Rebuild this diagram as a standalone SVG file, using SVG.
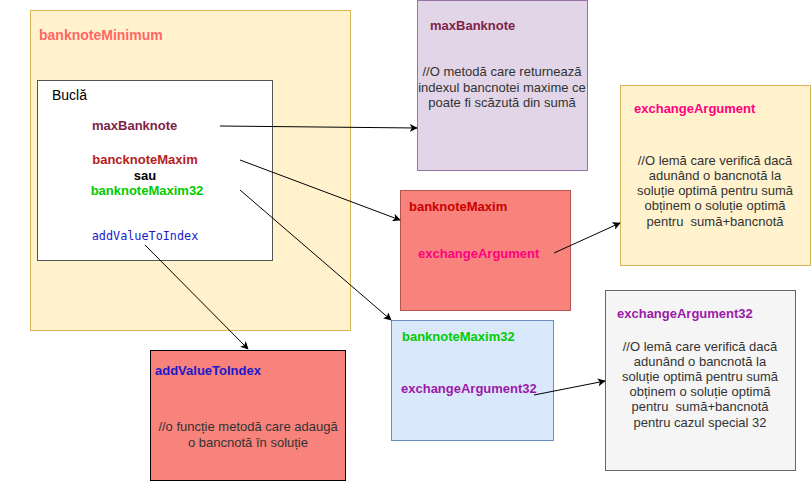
<svg xmlns="http://www.w3.org/2000/svg" width="811" height="481" viewBox="0 0 811 481">
<style>
text{font-family:"Liberation Sans",Arial,sans-serif;font-size:13px}
.b{font-weight:bold}
.c{text-anchor:middle;fill:#333333}
.mono{font-family:"DejaVu Sans Mono","Liberation Mono",monospace;font-size:11.8px}
.con{stroke:#000;stroke-width:1;fill:none;marker-end:url(#arr)}
</style>
<defs>
<marker id="arr" viewBox="0 0 10 10" refX="9" refY="5" markerWidth="8" markerHeight="8" orient="auto" markerUnits="userSpaceOnUse">
<path d="M0,0 L10,5 L0,10 L2.5,5 Z" fill="#000"/>
</marker>
</defs>
<rect width="811" height="481" fill="#fff"/>
<g id="banknoteMinimum">
<rect x="30.5" y="10.5" width="320" height="320" fill="#fff2cc" stroke="#d6b656"/>
<text x="39" y="40" class="b" style="font-size:14px" fill="#ff6666">banknoteMinimum</text>
</g>
<g id="bucla">
<rect x="37.5" y="80.5" width="235" height="180" fill="#ffffff" stroke="#555555"/>
<text x="52" y="100" style="font-size:14px" fill="#000">Buclă</text>
<text x="92" y="130" class="b" fill="#801f48">maxBanknote</text>
<text x="145" y="164" class="b" text-anchor="middle" fill="#b71c1c">bancknoteMaxim</text>
<text x="145" y="180" class="b" text-anchor="middle" fill="#000">sau</text>
<text x="147" y="195" class="b" text-anchor="middle" fill="#00cc00">banknoteMaxim32</text>
<text x="145" y="240" class="mono" text-anchor="middle" fill="#1a1acc">addValueToIndex</text>
</g>
<g id="maxBanknote">
<rect x="417.5" y="0.5" width="170" height="170" fill="#e1d5e7" stroke="#9673a6"/>
<text x="430" y="30" class="b" fill="#801f48">maxBanknote</text>
<text x="502" y="76" class="c">//O metodă care returnează</text>
<text x="502" y="92" class="c">indexul bancnotei maxime ce</text>
<text x="502" y="107" class="c">poate fi scăzută din sumă</text>
</g>
<g id="banknoteMaxim">
<rect x="400.5" y="190.5" width="170" height="120" fill="#f8827c" stroke="#b85450"/>
<text x="409" y="211" class="b" fill="#cc0000">banknoteMaxim</text>
<text x="418" y="258" class="b" fill="#ff0080">exchangeArgument</text>
</g>
<g id="exchangeArgument">
<rect x="620.5" y="85.5" width="190" height="180" fill="#fff2cc" stroke="#d6b656"/>
<text x="634" y="113" class="b" fill="#ff0080">exchangeArgument</text>
<text x="715" y="165" class="c">//O lemă care verifică dacă</text>
<text x="715" y="180" class="c">adunând o bancnotă la</text>
<text x="715" y="195" class="c">soluție optimă pentru sumă</text>
<text x="715" y="210" class="c">obținem o soluție optimă</text>
<text x="715" y="226" class="c" xml:space="preserve">pentru  sumă+bancnotă</text>
</g>
<g id="banknoteMaxim32">
<rect x="391.5" y="320.5" width="162" height="120" fill="#dae8fc" stroke="#6c8ebf"/>
<text x="402" y="341" class="b" fill="#00cc00">banknoteMaxim32</text>
<text x="401" y="393" class="b" fill="#9a1aa8">exchangeArgument32</text>
</g>
<g id="exchangeArgument32">
<rect x="605.5" y="290.5" width="190" height="180" fill="#f5f5f5" stroke="#666666"/>
<text x="617" y="318" class="b" fill="#9a1aa8">exchangeArgument32</text>
<text x="700" y="351" class="c">//O lemă care verifică dacă</text>
<text x="700" y="366" class="c">adunând o bancnotă la</text>
<text x="700" y="381" class="c">soluție optimă pentru sumă</text>
<text x="700" y="396" class="c">obținem o soluție optimă</text>
<text x="700" y="411" class="c" xml:space="preserve">pentru  sumă+bancnotă</text>
<text x="700" y="427" class="c">pentru cazul special 32</text>
</g>
<g id="addValueToIndex">
<rect x="150.5" y="350.5" width="195" height="130" fill="#f8827c" stroke="#000000"/>
<text x="155" y="375" class="b" fill="#1a1acc">addValueToIndex</text>
<text x="248" y="431" class="c">//o funcție metodă care adaugă</text>
<text x="248" y="447" class="c">o bancnotă în soluție</text>
</g>
<g id="connectors">
<line class="con" x1="220" y1="126" x2="417" y2="128"/>
<line class="con" x1="240" y1="160" x2="400" y2="220"/>
<line class="con" x1="240" y1="190" x2="391" y2="320"/>
<line class="con" x1="145" y1="245" x2="248" y2="349"/>
<line class="con" x1="554" y1="253" x2="620" y2="223"/>
<line class="con" x1="534" y1="395" x2="605" y2="381"/>
</g>
</svg>
